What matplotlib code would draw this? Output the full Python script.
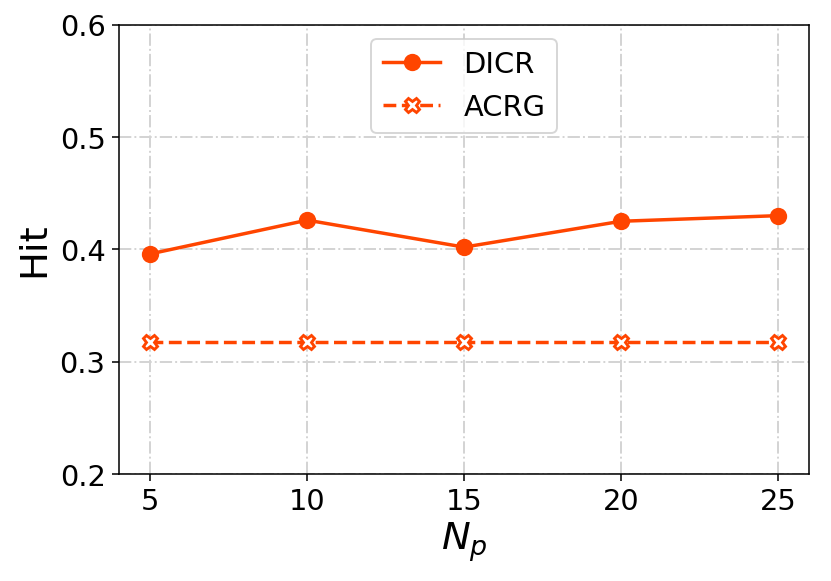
import matplotlib
matplotlib.use("Agg")
import matplotlib.pyplot as plt

x = [5, 10, 15, 20, 25]
dicr = [0.396, 0.426, 0.402, 0.425, 0.430]
acrg = [0.318, 0.318, 0.318, 0.318, 0.318]
yticks = [0.2, 0.3, 0.4, 0.5, 0.6]

color = '#FF4500'
fig = plt.figure(figsize=(6, 4.2), dpi=138.5)
ax = fig.add_axes([0.1432, 0.1837, 0.8305, 0.7728])
ax.plot(x, dicr, '-o', color=color, lw=1.8, markersize=8, label='DICR')
ax.plot(x, acrg, '--X', color=color, lw=1.8, markersize=7.5, markerfacecolor='white',
        markeredgecolor=color, markeredgewidth=1.5, label='ACRG')
ax.set_xlim(4, 26)
ax.set_ylim(0.2, 0.6)
ax.set_xticks(x)
ax.set_yticks(yticks)
ax.tick_params(labelsize=15)
ax.grid(True, linestyle='-.', color='lightgray', lw=1)
ax.set_axisbelow(True)
ax.set_xlabel('$N_p$', fontsize=20, labelpad=2)
ax.set_ylabel('Hit', fontsize=20)
ax.legend(loc='upper center', fontsize=15)
fig.savefig('out.png', dpi=138.5)
